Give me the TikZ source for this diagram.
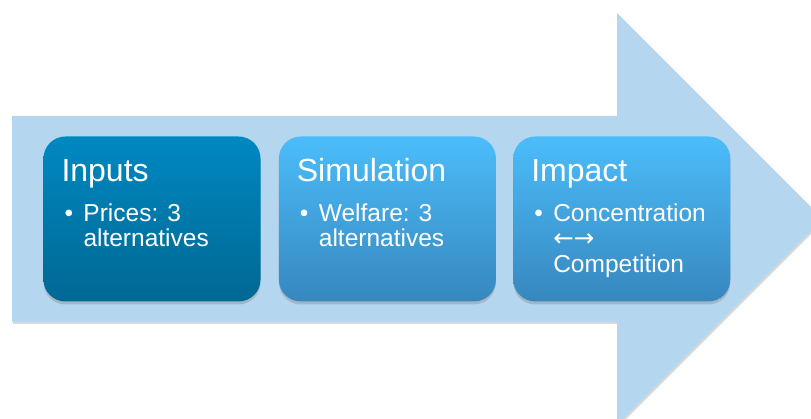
\documentclass[tikz,border=0pt]{standalone}
\usepackage{fontspec}
\setmainfont{Liberation Sans}
\newfontfamily\arrowfont{DejaVu Sans}
\usetikzlibrary{positioning, shadows}
\usepackage{xcolor}
\definecolor{arrowfill}{HTML}{B4D6EF}
\definecolor{darktop}{HTML}{0088C1}
\definecolor{darkbot}{HTML}{006893}
\definecolor{lighttop}{HTML}{4BBDFA}
\definecolor{lightbot}{HTML}{3787BE}
\tikzset{
	x=1pt, y=1pt,
	stage/.style={rounded corners=22pt, minimum width=217pt, minimum height=165pt, inner sep=0pt,
		drop shadow={shadow xshift=0pt, shadow yshift=-3pt, opacity=0.35}},
	darkstage/.style={stage, top color=darktop, bottom color=darkbot},
	lightstage/.style={stage, top color=lighttop, bottom color=lightbot},
	title/.style={text=white, inner sep=0pt, anchor=base west, font=\fontsize{32}{34}\selectfont},
	bullets/.style={text=white, inner sep=0pt, anchor=base west, font=\fontsize{24.5}{25.5}\selectfont}}
\newcommand{\bulletlines}[1]{\begin{tabular}[t]{@{}p{22pt}@{}l@{}}\hspace{3pt}\textbullet & #1\end{tabular}}

\begin{document}
\begin{tikzpicture}
		\useasboundingbox (0,0) rectangle (811,419);
		\clip (0,0) rectangle (811,419);
		%big arrow
		\fill[arrowfill, drop shadow={shadow xshift=1pt, shadow yshift=-2pt, opacity=0.3}]
		(12,303) -- (617,303) -- (617,406) -- (823,200) -- (617,-6) -- (617,97) -- (12,97) -- cycle;
		
		%stages
		\node[darkstage] (inputs) at (152,200) {};
		\node[lightstage, right=18pt of inputs] (simulation) {};
		\node[lightstage, right=17pt of simulation] (impact) {};
		
		%texts
		\node[title] (inputs-title) at ([xshift=18pt, yshift=-45pt]inputs.north west) {Inputs};
		\node[title] (simulation-title) at ([xshift=18pt, yshift=-45pt]simulation.north west) {Simulation};
		\node[title] (impact-title) at ([xshift=18pt, yshift=-45pt]impact.north west) {Impact};
		
		\node[bullets] (inputs-text) at ([yshift=-40pt]inputs-title.base west) {\bulletlines{Prices: 3\\ & alternatives}};
		\node[bullets] (simulation-text) at ([yshift=-40pt]simulation-title.base west) {\bulletlines{Welfare: 3\\ & alternatives}};
		\node[bullets] (impact-text) at ([yshift=-40pt]impact-title.base west) {\bulletlines{Concentration\\ & {\arrowfont ←→}\\ & Competition}};
	\end{tikzpicture}
\end{document}
